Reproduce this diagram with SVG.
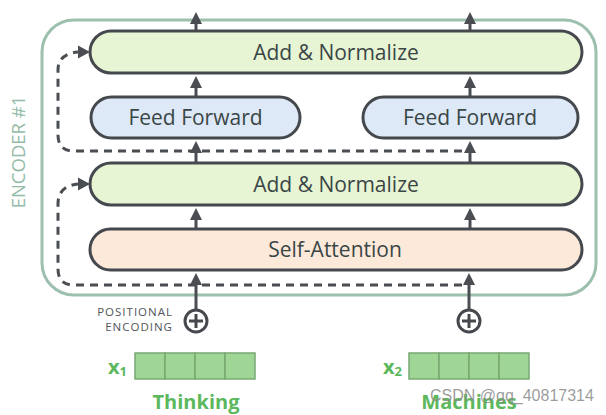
<svg xmlns="http://www.w3.org/2000/svg" width="606" height="415" viewBox="0 0 606 415">
<defs>
<marker id="ah" markerWidth="4" markerHeight="4" refX="2" refY="2" orient="auto" markerUnits="strokeWidth">
<path d="M0,0 L4,2 L0,4 Z" fill="#4a4d52"/>
</marker>
<style>
.lbl{font-family:"Open Sans","DejaVu Sans",sans-serif;font-size:21px;fill:#3a4646;text-anchor:middle}
.node{stroke:#45484d;stroke-width:3}
.an{fill:#e8f5d5}
.ff{fill:#dde9f7}
.sa{fill:#fde9da}
.arr{stroke:#4a4d52;stroke-width:3;fill:none}
.dash{stroke:#4a4d52;stroke-width:3;fill:none;stroke-dasharray:8 6}
.cell{fill:#9fd696;stroke:#78a872;stroke-width:1.5}
.grn{font-family:"Open Sans","DejaVu Sans",sans-serif;font-weight:bold;fill:#5cb85c}
.pe{font-family:"Open Sans","DejaVu Sans",sans-serif;font-size:11.5px;letter-spacing:1px;fill:#50555a;text-anchor:end}
</style>
</defs>
<rect width="606" height="415" fill="#ffffff"/>
<g id="encoder">
<rect x="42" y="20" width="554" height="275" rx="32" fill="none" stroke="#9dc0ae" stroke-width="3"/>
<text transform="translate(25,152) rotate(-90)" font-family="'Open Sans','DejaVu Sans',sans-serif" font-size="18.5" fill="#94bba8" text-anchor="middle">ENCODER #1</text>
</g>
<g id="connectors">
<line class="arr" x1="196" y1="31" x2="196" y2="18" marker-end="url(#ah)"/>
<line class="arr" x1="470" y1="31" x2="470" y2="18" marker-end="url(#ah)"/>
<line class="arr" x1="196" y1="97" x2="196" y2="82" marker-end="url(#ah)"/>
<line class="arr" x1="470" y1="97" x2="470" y2="82" marker-end="url(#ah)"/>
<line class="arr" x1="196" y1="163" x2="196" y2="147" marker-end="url(#ah)"/>
<line class="arr" x1="470" y1="163" x2="470" y2="147" marker-end="url(#ah)"/>
<line class="arr" x1="196" y1="229" x2="196" y2="214" marker-end="url(#ah)"/>
<line class="arr" x1="470" y1="229" x2="470" y2="214" marker-end="url(#ah)"/>
<line class="arr" x1="196" y1="309" x2="196" y2="279" marker-end="url(#ah)"/>
<line class="arr" x1="469" y1="309" x2="469" y2="279" marker-end="url(#ah)"/>
<path class="dash" d="M462,285 L74,285 Q58,285 58,269 L58,204 Q58,186 78,184"/>
<path d="M78,177.5 L90,184 L78,190.5 Z" fill="#4a4d52"/>
<path class="dash" d="M462,151 L74,151 Q58,151 58,135 L58,70 Q58,54 78,52"/>
<path d="M78,45.5 L90,52 L78,58.5 Z" fill="#4a4d52"/>
</g>
<g id="add-norm-2">
<rect class="node an" x="90" y="31" width="492" height="42" rx="21"/>
<text class="lbl" x="336" y="59.5">Add &amp; Normalize</text>
</g>
<g id="ff-1">
<rect class="node ff" x="91" y="97" width="209" height="41" rx="20.5"/>
<text class="lbl" x="195.5" y="125">Feed Forward</text>
</g>
<g id="ff-2">
<rect class="node ff" x="363" y="97" width="215" height="41" rx="20.5"/>
<text class="lbl" x="470" y="125">Feed Forward</text>
</g>
<g id="add-norm-1">
<rect class="node an" x="90" y="163" width="492" height="42" rx="21"/>
<text class="lbl" x="336" y="191.5">Add &amp; Normalize</text>
</g>
<g id="self-attention">
<rect class="node sa" x="90" y="229" width="492" height="41" rx="20.5"/>
<text class="lbl" x="335" y="257">Self-Attention</text>
</g>
<g id="pos-enc-1">
<text class="pe" x="173" y="316">POSITIONAL</text>
<text class="pe" x="173" y="331">ENCODING</text>
<circle cx="196" cy="321" r="11" fill="#fff" stroke="#45484d" stroke-width="3"/>
<path d="M189,321 H203 M196,314 V328" stroke="#45484d" stroke-width="3"/>
</g>
<g id="pos-enc-2">
<circle cx="469" cy="321" r="11" fill="#fff" stroke="#45484d" stroke-width="3"/>
<path d="M462,321 H476 M469,314 V328" stroke="#45484d" stroke-width="3"/>
</g>
<g id="x1">
<rect class="cell" x="135" y="353" width="30" height="26"/>
<rect class="cell" x="165" y="353" width="30" height="26"/>
<rect class="cell" x="195" y="353" width="30" height="26"/>
<rect class="cell" x="225" y="353" width="30" height="26"/>
<text class="grn" x="108" y="374" font-size="20">x<tspan font-size="13" dy="2">1</tspan></text>
<text class="grn" x="196" y="409" font-size="20" text-anchor="middle">Thinking</text>
</g>
<g id="x2">
<rect class="cell" x="409" y="353" width="30" height="26"/>
<rect class="cell" x="439" y="353" width="30" height="26"/>
<rect class="cell" x="469" y="353" width="30" height="26"/>
<rect class="cell" x="499" y="353" width="30" height="26"/>
<text class="grn" x="383" y="374" font-size="20">x<tspan font-size="13" dy="2">2</tspan></text>
<text class="grn" x="469" y="409" font-size="20" text-anchor="middle">Machines</text>
</g>
<text x="430" y="401" font-family="'Liberation Sans',sans-serif" font-size="16" fill="#8a8a8a" fill-opacity="0.85">CSDN @qq_40817314</text>
</svg>
